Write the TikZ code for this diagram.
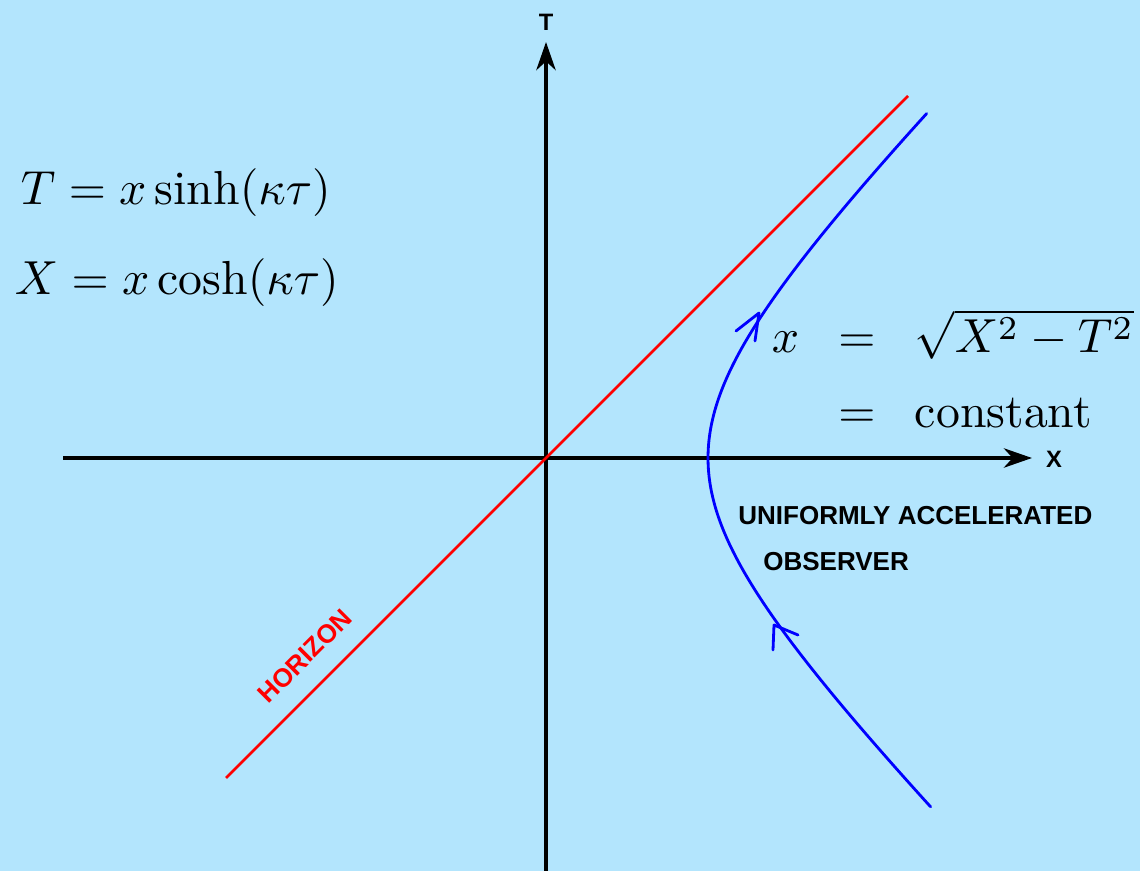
\documentclass[tikz,border=0pt]{standalone}
\usepackage{fontspec}
\newfontfamily\lsans{Liberation Sans}
\usepackage{amsmath}
\usetikzlibrary{arrows.meta}
\definecolor{bg}{RGB}{179,229,253}
\definecolor{hred}{RGB}{255,0,0}
\definecolor{oblue}{RGB}{0,0,255}
\tikzset{
  axis/.style={line width=2.3pt,-{Stealth[length=16pt,width=11pt,inset=5pt]}},
  lbl/.style={font=\lsans\bfseries\fontsize{14.8}{17}\selectfont,inner sep=0pt},
  eq/.style={font=\fontsize{10}{12}\selectfont,inner sep=0pt,anchor=base west,scale=2.72,transform shape},
  horizonline/.style={hred,line width=1.5pt},
  worldline/.style={oblue,line width=1.6pt,line cap=round,line join=round},
}
\begin{document}
\begin{tikzpicture}[x=0.02cm,y=-0.02cm]
\fill[bg] (0,0) rectangle (1140,871);
\useasboundingbox (0,0) rectangle (1140,871);
% axes
\coordinate (O) at (546,458);
\coordinate (xl) at (63,458);
\coordinate (xr) at (1032,458);
\coordinate (tb) at (546,871);
\coordinate (tt) at (546,42);
\draw[axis] (xl) -- (xr);
\draw[axis] (tb) -- (tt);
\node[lbl,font=\lsans\bfseries\fontsize{13.5}{15}\selectfont] (Tlab) at (546,22) {T};
\node[lbl,font=\lsans\bfseries\fontsize{13.5}{15}\selectfont] (Xlab) at (1054,459) {X};
% horizon
\coordinate (h1) at (226,778);
\coordinate (h2) at (908,96);
\draw[horizonline] (h1) -- (h2);
\node[lbl,text=hred,rotate=45] (hz) at (305,656) {HORIZON};
% worldline
\draw[worldline] plot[domain=-1.51:1.50,samples=120,smooth] ({546+162*cosh(\x)},{458-162*sinh(\x)});
\coordinate (c1t) at (759,313);
\coordinate (c1a) at (736,331);
\coordinate (c1b) at (755,341);
\draw[worldline] (c1a) -- (c1t) -- (c1b);
\coordinate (c2t) at (774,625);
\coordinate (c2a) at (798,635);
\coordinate (c2b) at (773,650);
\draw[worldline] (c2a) -- (c2t) -- (c2b);
% equations
\node[eq] (e1) at (20,205) {$T = x\sinh(\kappa\tau)$};
\node[eq] (e2) at (14,295) {$X = x\cosh(\kappa\tau)$};
\node[eq] (r1x) at (771,353) {$x$};
\node[eq,anchor=base] (r1e) at (857,353) {$=$};
\node[eq] (r1s) at (914,353) {$\sqrt{X^2-T^2}$};
\node[eq,anchor=base] (r2e) at (857,428) {$=$};
\node[eq] (r2c) at (914,428) {constant};
\node[lbl,anchor=base west] (u1) at (738,525) {UNIFORMLY ACCELERATED};
\node[lbl,anchor=base west] (u2) at (763,571) {OBSERVER};
\end{tikzpicture}
\end{document}
